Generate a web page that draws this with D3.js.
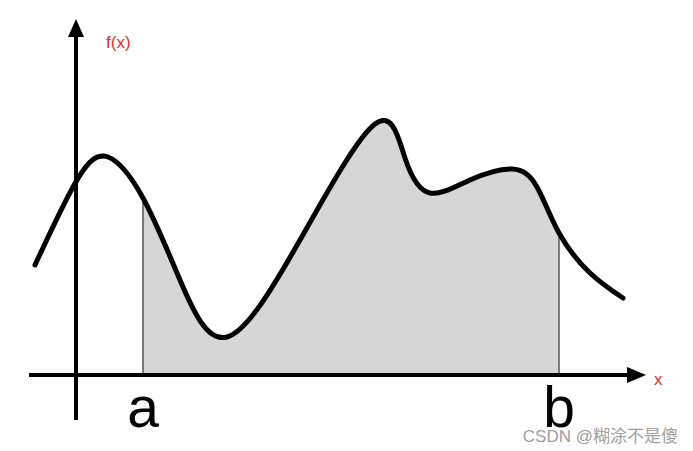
<!DOCTYPE html>
<html>
<head>
<meta charset="utf-8">
<script src="https://cdn.jsdelivr.net/npm/d3@7"></script>
<style>
  body { margin: 0; background: #fff; }
  svg { display: block; }
</style>
</head>
<body>
<div id="chart"></div>
<script>
// curve samples (abstract units, origin where the axes cross)
var xs = [-0.82, 0.02, 0.64, 1.34, 2.08, 3.02, 4.48, 5.98, 6.58, 7.08, 7.88, 8.72, 9.22, 9.66, 10.28, 10.94];
var ys = [2.2, 3.9, 4.36, 3.54, 1.9, 0.76, 2.7, 5.02, 4.34, 3.64, 3.9, 4.12, 3.76, 2.84, 2.04, 1.54];
var bounds = ['a', 'b'];
var boundVals = [1.34, 9.66];
var axisLabels = ['f(x)', 'x'];

var width = 693, height = 451;
var ox = 76, oy = 375;   // where the axes meet

var xScale = d3.scaleLinear().domain([0, 1]).range([ox, ox + 50]);
var yScale = d3.scaleLinear().domain([0, 1]).range([oy, oy - 50]);

var pts = xs.map(function(d, i){ return {x: d, y: ys[i]}; });

var svg = d3.select('#chart').append('svg')
    .attr('width', width)
    .attr('height', height);

svg.append('defs').append('clipPath')
    .attr('id', 'ab')
  .append('rect')
    .attr('x', xScale(boundVals[0]))
    .attr('y', 0)
    .attr('width', xScale(boundVals[1]) - xScale(boundVals[0]))
    .attr('height', height);

var curve = d3.curveNatural;

var area = d3.area()
    .x(d => xScale(d.x))
    .y0(yScale(0))
    .y1(d => yScale(d.y))
    .curve(curve);

var line = d3.line()
    .x(d => xScale(d.x))
    .y(d => yScale(d.y))
    .curve(curve);

svg.append('path')
    .datum(pts)
    .attr('d', area)
    .attr('clip-path', 'url(#ab)')
    .attr('fill', '#d6d6d6');

// find y on the drawn curve at x=v
var yAt = function(v){
    var path = svg.append('path').datum(pts).attr('d', line).attr('fill', 'none');
    var node = path.node(), len = node.getTotalLength();
    var lo = 0, hi = len, px = xScale(v);
    for (var k = 0; k < 40; k++){
        var mid = (lo + hi) / 2;
        if (node.getPointAtLength(mid).x < px) lo = mid; else hi = mid;
    }
    var yy = node.getPointAtLength(lo).y;
    path.remove();
    return yy;
};
boundVals.forEach(function(v){
    svg.append('line')
        .attr('x1', xScale(v)).attr('x2', xScale(v))
        .attr('y1', yAt(v)).attr('y2', yScale(0))
        .attr('stroke', '#555')
        .attr('stroke-width', 1.5);
});

svg.append('path')
    .datum(pts)
    .attr('d', line)
    .attr('fill', 'none')
    .attr('stroke', '#000')
    .attr('stroke-width', 5)
    .attr('stroke-linecap', 'round')
    .attr('stroke-linejoin', 'round');

// axes
svg.append('line')
    .attr('x1', 29).attr('x2', 630)
    .attr('y1', oy).attr('y2', oy)
    .attr('stroke', '#000').attr('stroke-width', 4);
svg.append('path')
    .attr('d', 'M627,' + (oy - 8) + 'L646,' + oy + 'L627,' + (oy + 8) + 'Z')
    .attr('fill', '#000');

svg.append('line')
    .attr('x1', ox).attr('x2', ox)
    .attr('y1', 420).attr('y2', 34)
    .attr('stroke', '#000').attr('stroke-width', 4);
svg.append('path')
    .attr('d', 'M' + (ox - 8) + ',37L' + ox + ',19L' + (ox + 8) + ',37Z')
    .attr('fill', '#000');

svg.append('text')
    .attr('x', 106).attr('y', 48)
    .attr('fill', '#e0302a')
    .style('font-family', 'Liberation Sans, Arial, sans-serif')
    .style('font-size', '17px')
    .text(axisLabels[0]);
svg.append('text')
    .attr('x', 654).attr('y', 385)
    .attr('fill', '#e0302a')
    .style('font-family', 'Liberation Sans, Arial, sans-serif')
    .style('font-size', '17px')
    .text(axisLabels[1]);

svg.selectAll('.bound')
    .data(bounds)
    .join('text')
    .attr('class', 'bound')
    .attr('x', (d, i) => xScale(boundVals[i]))
    .attr('y', 427)
    .attr('text-anchor', 'middle')
    .style('font-family', 'Liberation Sans, Arial, sans-serif')
    .style('font-size', '57px')
    .text(d => d);

svg.append('text')
    .attr('x', 678).attr('y', 442)
    .attr('text-anchor', 'end')
    .attr('fill', '#a0a0a0')
    .style('font-family', 'Liberation Sans, Noto Sans CJK SC, sans-serif')
    .style('font-size', '17px')
    .text('CSDN @糊涂不是傻');
</script>
</body>
</html>
